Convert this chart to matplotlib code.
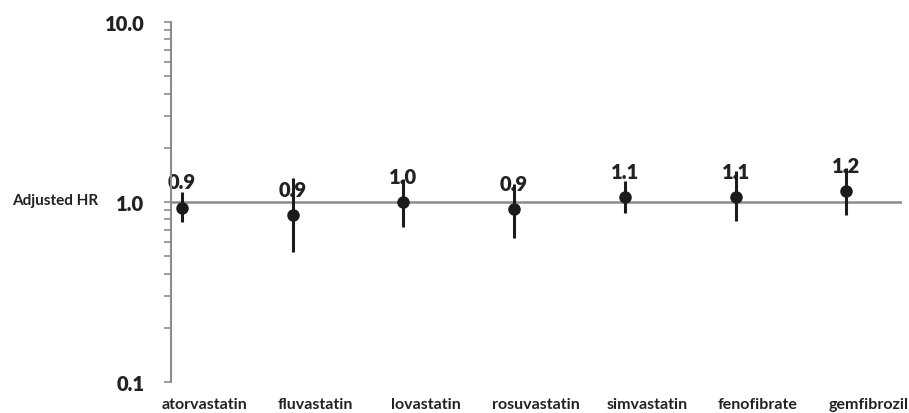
import matplotlib
matplotlib.use("Agg")
import matplotlib.pyplot as plt
import numpy as np
from matplotlib.ticker import FixedLocator, NullFormatter

drugs = ["atorvastatin", "fluvastatin", "lovastatin", "rosuvastatin",
         "simvastatin", "fenofibrate", "gemfibrozil"]
hr = [0.93, 0.85, 1.00, 0.91, 1.07, 1.07, 1.15]
ci_low = [0.77, 0.53, 0.73, 0.63, 0.87, 0.78, 0.85]
ci_high = [1.13, 1.36, 1.34, 1.26, 1.31, 1.49, 1.54]
hr_labels = ["0.9", "0.9", "1.0", "0.9", "1.1", "1.1", "1.2"]
y_ticks = [0.1, 1.0, 10.0]
y_ticklabels = ["0.1", "1.0", "10.0"]

plt.rcParams['font.family'] = ['Lato', 'DejaVu Sans']

fig = plt.figure(figsize=(9.09, 4.14), dpi=100)
ax = fig.add_axes([0.1878, 0.0749, 0.9920 - 0.1878, 0.9444 - 0.0749])

x = np.arange(len(drugs))
hr_a = np.array(hr)
yerr = np.array([hr_a - np.array(ci_low), np.array(ci_high) - hr_a])

ax.axhline(1.0, color="#8c8c8c", lw=1.8, zorder=1)
ax.errorbar(x, hr_a, yerr=yerr, fmt="o", color="#1c1a1b", ecolor="#1c1a1b",
            elinewidth=2.2, markersize=8, capsize=0, zorder=3)

for xi, yi, lab in zip(x, hr_a, hr_labels):
    ax.annotate(lab, (xi, yi), xytext=(0, 18.5), textcoords="offset points",
                ha="center", va="center", fontsize=14.5, fontweight="heavy",
                color="#222222", zorder=2)

ax.set_yscale("log")
ax.set_ylim(0.1, 10.0)
ax.set_xlim(-0.102, 6.5)

ax.yaxis.set_major_locator(FixedLocator(y_ticks))
ax.set_yticklabels(y_ticklabels, fontsize=14.5, fontweight="heavy", color="#222222")
minor = [m * 10.0 ** e for e in (-1, 0) for m in range(2, 10)]
ax.yaxis.set_minor_locator(FixedLocator(minor))
ax.yaxis.set_minor_formatter(NullFormatter())
ax.tick_params(axis="y", which="both", direction="out", length=5, width=1.2,
               color="#8c8c8c", pad=14)

ax.set_xticks(x + 0.2)
ax.set_xticklabels(drugs, fontsize=11.5, fontweight="bold", color="#222222")
ax.tick_params(axis="x", length=0, pad=11)

for s in ["top", "right", "bottom"]:
    ax.spines[s].set_visible(False)
ax.spines["left"].set_color("#8c8c8c")
ax.spines["left"].set_linewidth(1.5)

fig.text(12 / 909, 1 - 201 / 414, "Adjusted HR", ha="left", va="center",
         fontsize=11, fontweight="bold", color="#222222")

fig.savefig("out.png", dpi=100)
